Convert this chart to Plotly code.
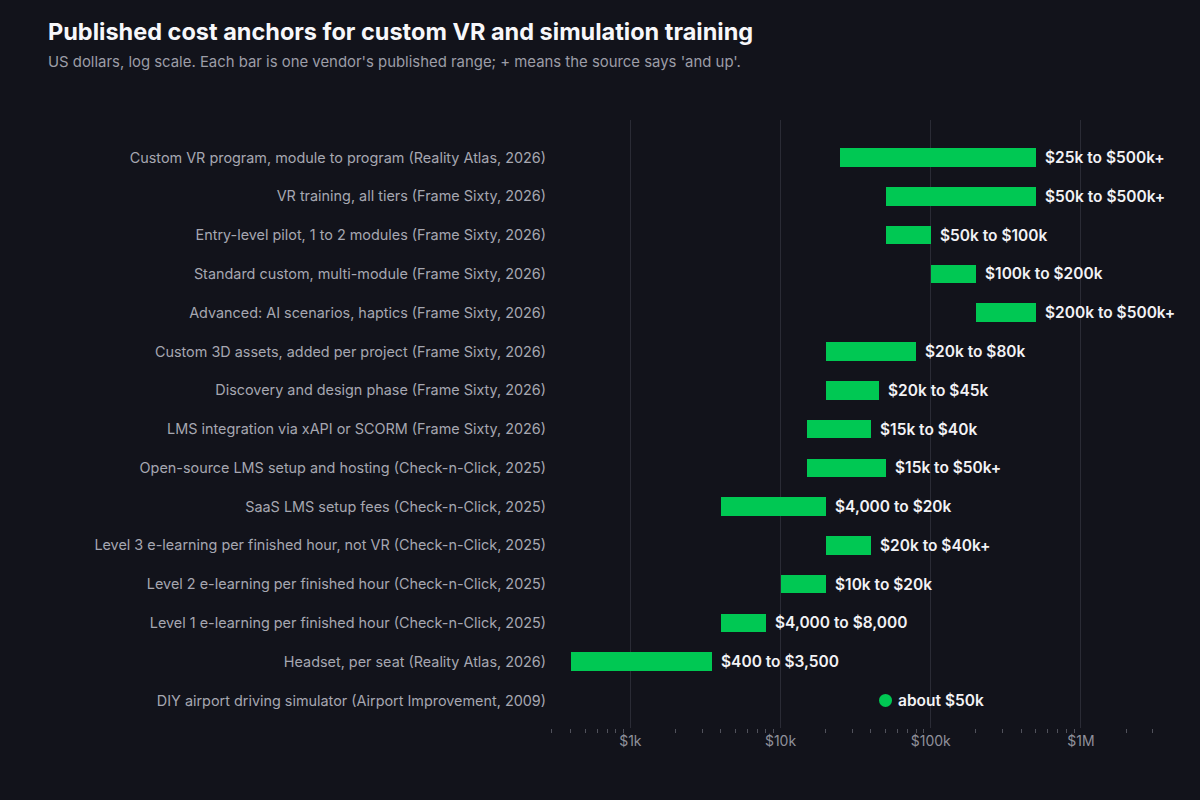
import math
import plotly.graph_objects as go

# published ranges, top row first (US dollars)
categories = [
    "Custom VR program, module to program (Reality Atlas, 2026)",
    "VR training, all tiers (Frame Sixty, 2026)",
    "Entry-level pilot, 1 to 2 modules (Frame Sixty, 2026)",
    "Standard custom, multi-module (Frame Sixty, 2026)",
    "Advanced: AI scenarios, haptics (Frame Sixty, 2026)",
    "Custom 3D assets, added per project (Frame Sixty, 2026)",
    "Discovery and design phase (Frame Sixty, 2026)",
    "LMS integration via xAPI or SCORM (Frame Sixty, 2026)",
    "Open-source LMS setup and hosting (Check-n-Click, 2025)",
    "SaaS LMS setup fees (Check-n-Click, 2025)",
    "Level 3 e-learning per finished hour, not VR (Check-n-Click, 2025)",
    "Level 2 e-learning per finished hour (Check-n-Click, 2025)",
    "Level 1 e-learning per finished hour (Check-n-Click, 2025)",
    "Headset, per seat (Reality Atlas, 2026)",
]
low = [25000, 50000, 50000, 100000, 200000, 20000, 20000, 15000, 15000,
       4000, 20000, 10000, 4000, 400]
high = [500000, 500000, 100000, 200000, 500000, 80000, 45000, 40000, 50000,
        20000, 40000, 20000, 8000, 3500]
labels = ["$25k to $500k+", "$50k to $500k+", "$50k to $100k", "$100k to $200k",
          "$200k to $500k+", "$20k to $80k", "$20k to $45k", "$15k to $40k",
          "$15k to $50k+", "$4,000 to $20k", "$20k to $40k+", "$10k to $20k",
          "$4,000 to $8,000", "$400 to $3,500"]

point_category = "DIY airport driving simulator (Airport Improvement, 2009)"
point_value = 50000
point_label = "about $50k"

tick_vals = [1000, 10000, 100000, 1000000]
tick_text = ["$1k", "$10k", "$100k", "$1M"]

BG = "#12131b"
GREEN = "#00c853"
FONT = "Inter, Roboto, sans-serif"
LABEL_FONT = dict(family=FONT, size=15.5, color="#f2f2f5", weight=600)

all_cats = categories + [point_category]

fig = go.Figure()
fig.add_trace(go.Bar(
    y=categories, x=[h - l for l, h in zip(low, high)], base=low,
    orientation="h", width=0.48, marker=dict(color=GREEN, line=dict(width=0)),
    hoverinfo="skip", showlegend=False))
fig.add_trace(go.Scatter(
    y=[point_category], x=[point_value], mode="markers",
    marker=dict(color=GREEN, size=13), hoverinfo="skip", showlegend=False))

# annotations on a log axis take log10 positions
for cat, h, lab in zip(categories, high, labels):
    fig.add_annotation(x=math.log10(h), y=cat, xref="x", yref="y", text=lab,
                       showarrow=False, xanchor="left", xshift=7, font=LABEL_FONT)
fig.add_annotation(x=math.log10(point_value), y=point_category, xref="x", yref="y",
                   text=point_label, showarrow=False, xanchor="left", xshift=10,
                   font=LABEL_FONT)

# title + subtitle (paper coords relative to plot area)
fig.add_annotation(xref="paper", yref="paper", x=-0.8235, y=1.146,
                   xanchor="left", yanchor="middle", showarrow=False,
                   text="Published cost anchors for custom VR and simulation training",
                   font=dict(family=FONT, size=23.5, color="#f7f7fa", weight=700))
fig.add_annotation(xref="paper", yref="paper", x=-0.8235, y=1.0954,
                   xanchor="left", yanchor="middle", showarrow=False,
                   text="US dollars, log scale. Each bar is one vendor's published range; "
                        "+ means the source says 'and up'.",
                   font=dict(family=FONT, size=14.9, color="#9c9da7"))

minor_vals = [m * 10 ** e for e in range(2, 7) for m in range(2, 10)]

fig.update_xaxes(type="log", range=[2.465, 6.54], tickvals=tick_vals, ticktext=tick_text,
                 showgrid=True, gridcolor="#2a2b35", gridwidth=1, zeroline=False,
                 showline=False, ticks="", ticklabelstandoff=3,
                 tickfont=dict(family=FONT, size=14, color="#8f909a"),
                 minor=dict(tickvals=minor_vals, ticks="outside", ticklen=4,
                            tickcolor="#50515b", showgrid=False))
fig.update_yaxes(categoryorder="array", categoryarray=all_cats,
                 range=[14.71, -0.97], showgrid=False, zeroline=False, ticks="",
                 ticklabelstandoff=3,
                 tickfont=dict(family=FONT, size=14.4, color="#a6a7b1"))

fig.update_layout(width=1200, height=800, paper_bgcolor=BG, plot_bgcolor=BG,
                  margin=dict(l=550, r=38, t=120, b=72), bargap=0,
                  font=dict(family=FONT))

fig.write_html("out.html", config={"displayModeBar": False},
               post_script="document.body.style.margin='0';")
